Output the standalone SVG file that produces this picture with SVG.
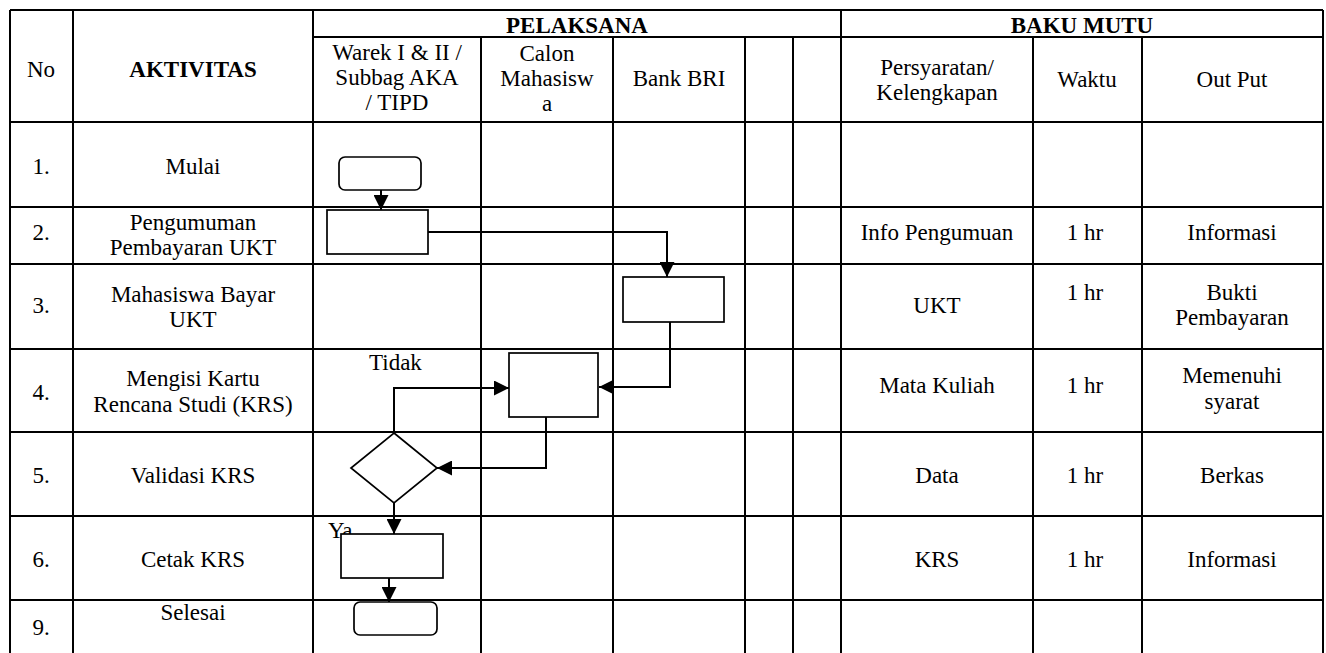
<svg xmlns="http://www.w3.org/2000/svg" width="1326" height="653" viewBox="0 0 1326 653">
<style>
.g{stroke:#000;stroke-width:2;fill:none}
.t{font-family:'Liberation Serif','Times New Roman',serif;font-size:23px;fill:#000;text-anchor:middle}
.b{font-weight:bold}
.l{text-anchor:start}
.s{fill:#fff;stroke:#000;stroke-width:1.7}
.c{fill:none;stroke:#000;stroke-width:2}
</style>
<defs>
<marker id="ah" viewBox="0 0 15 15" refX="15" refY="7.5" markerWidth="15" markerHeight="15" markerUnits="userSpaceOnUse" orient="auto">
<path d="M0,0 L15,7.5 L0,15 z" fill="#000"/>
</marker>
</defs>
<rect width="1326" height="653" fill="#fff"/>
<g id="grid" class="g">
<path d="M10,10 H1323 M313,37 H1323 M10,122 H1323 M10,207 H1323 M10,264 H1323 M10,349 H1323 M10,432 H1323 M10,516 H1323 M10,600 H1323"/>
<path d="M10,10 V653 M73,10 V653 M313,10 V653 M841,10 V653 M1323,10 V653 M481,37 V653 M613,37 V653 M745,37 V653 M793,37 V653 M1033,37 V653 M1142,37 V653"/>
</g>
<g id="header">
<text class="t" x="41" y="77">No</text>
<text class="t b" x="193" y="77">AKTIVITAS</text>
<text class="t b" x="577" y="33">PELAKSANA</text>
<text class="t b" x="1082" y="33">BAKU MUTU</text>
<text class="t" x="397" y="60">Warek I &amp; II /</text>
<text class="t" x="397" y="85">Subbag AKA</text>
<text class="t" x="397" y="110">/ TIPD</text>
<text class="t" x="547" y="61">Calon</text>
<text class="t" x="547" y="86">Mahasisw</text>
<text class="t" x="547" y="111">a</text>
<text class="t" x="679" y="86">Bank BRI</text>
<text class="t" x="937" y="75">Persyaratan/</text>
<text class="t" x="937" y="100">Kelengkapan</text>
<text class="t" x="1087" y="87">Waktu</text>
<text class="t" x="1232" y="87">Out Put</text>
</g>
<g id="rows">
<text class="t" x="41" y="174">1.</text>
<text class="t" x="193" y="174">Mulai</text>
<text class="t" x="41" y="240">2.</text>
<text class="t" x="193" y="230">Pengumuman</text>
<text class="t" x="193" y="255">Pembayaran UKT</text>
<text class="t" x="937" y="240">Info Pengumuan</text>
<text class="t" x="1085" y="240">1 hr</text>
<text class="t" x="1232" y="240">Informasi</text>
<text class="t" x="41" y="313">3.</text>
<text class="t" x="193" y="302">Mahasiswa Bayar</text>
<text class="t" x="193" y="327">UKT</text>
<text class="t" x="937" y="313">UKT</text>
<text class="t" x="1085" y="300">1 hr</text>
<text class="t" x="1232" y="300">Bukti</text>
<text class="t" x="1232" y="325">Pembayaran</text>
<text class="t" x="41" y="400">4.</text>
<text class="t" x="193" y="386">Mengisi Kartu</text>
<text class="t" x="193" y="412">Rencana Studi (KRS)</text>
<text class="t" x="937" y="393">Mata Kuliah</text>
<text class="t" x="1085" y="393">1 hr</text>
<text class="t" x="1232" y="383">Memenuhi</text>
<text class="t" x="1232" y="409">syarat</text>
<text class="t" x="41" y="483">5.</text>
<text class="t" x="193" y="483">Validasi KRS</text>
<text class="t" x="937" y="483">Data</text>
<text class="t" x="1085" y="483">1 hr</text>
<text class="t" x="1232" y="483">Berkas</text>
<text class="t" x="41" y="567">6.</text>
<text class="t" x="193" y="567">Cetak KRS</text>
<text class="t" x="937" y="567">KRS</text>
<text class="t" x="1085" y="567">1 hr</text>
<text class="t" x="1232" y="567">Informasi</text>
<text class="t" x="41" y="635">9.</text>
<text class="t" x="193" y="620">Selesai</text>
</g>
<g id="labels">
<text class="t l" x="369" y="370">Tidak</text>
<text class="t l" x="328" y="538">Ya</text>
</g>
<g id="connectors" class="c">
<path d="M381,190 V210" marker-end="url(#ah)"/>
<path d="M428,232 H667 V277" marker-end="url(#ah)"/>
<path d="M670,322 V387 H599" marker-end="url(#ah)"/>
<path d="M546,417 V468 H437" marker-end="url(#ah)"/>
<path d="M394,433 V388 H509" marker-end="url(#ah)"/>
<path d="M394,503 V534" marker-end="url(#ah)"/>
<path d="M389,578 V602" marker-end="url(#ah)"/>
</g>
<g id="start"><rect class="s" x="339" y="157" width="82" height="33" rx="6"/></g>
<g id="pengumuman"><rect class="s" x="327" y="210" width="101" height="44"/></g>
<g id="bayar"><rect class="s" x="623" y="277" width="101" height="45"/></g>
<g id="krs"><rect class="s" x="509" y="353" width="89" height="64"/></g>
<g id="validasi"><polygon class="s" points="394,433 437,468 394,503 351,468"/></g>
<g id="cetak"><rect class="s" x="341" y="534" width="102" height="44"/></g>
<g id="end"><rect class="s" x="354" y="602" width="83" height="33" rx="6"/></g>
</svg>
